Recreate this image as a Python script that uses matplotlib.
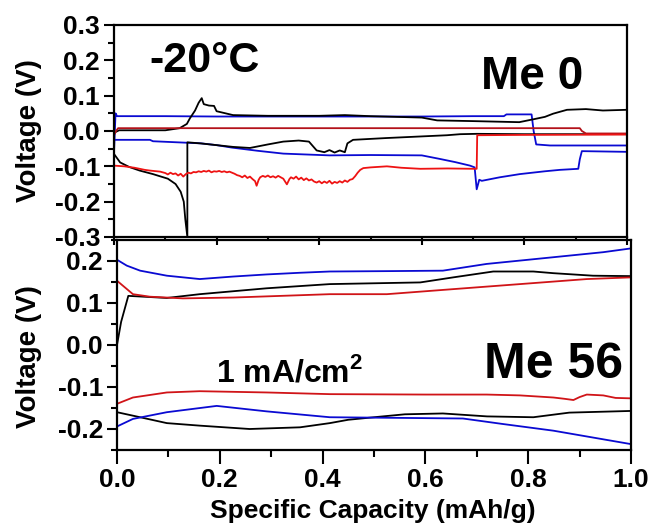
import matplotlib
matplotlib.use("Agg")
import matplotlib.pyplot as plt
from matplotlib.ticker import MultipleLocator, FormatStrFormatter

plt.rcParams['font.family'] = ['Liberation Sans', 'DejaVu Sans']
plt.rcParams['font.weight'] = 'bold'
plt.rcParams['axes.unicode_minus'] = False
plt.rcParams['mathtext.fontset'] = 'custom'
plt.rcParams['mathtext.rm'] = 'Liberation Sans:bold'
plt.rcParams['mathtext.bf'] = 'Liberation Sans:bold'

# ---------------- Me 0 cell (upper panel) ----------------
# blue cycle, charge branch then discharge branch
me0_blue_chg_c = [0.0, 0.003, 0.006, 0.1, 0.2, 0.3, 0.45, 0.6, 0.7, 0.76, 0.765, 0.814, 0.818, 0.823, 0.85, 1.0]
me0_blue_chg_v = [-0.06, 0.05, 0.042, 0.042, 0.041, 0.041, 0.041, 0.041, 0.042, 0.042, 0.047, 0.047, 0.0, -0.038, -0.041, -0.041]
me0_blue_dis_c = [0.0, 0.07, 0.076, 0.17, 0.2, 0.23, 0.28, 0.33, 0.42, 0.5, 0.6, 0.635, 0.665, 0.694, 0.703,
                  0.707, 0.712, 0.717, 0.752, 0.791, 0.84, 0.869, 0.905, 0.908, 0.912, 1.0]
me0_blue_dis_v = [-0.025, -0.025, -0.029, -0.035, -0.040, -0.047, -0.056, -0.064, -0.069, -0.068, -0.069, -0.079,
                  -0.088, -0.098, -0.103, -0.165, -0.138, -0.141, -0.131, -0.122, -0.114, -0.110, -0.107, -0.08, -0.057, -0.059]

me0_black_chg_c = [0.0, 0.01, 0.05, 0.1, 0.128, 0.142, 0.148, 0.158, 0.165, 0.171, 0.175, 0.185, 0.195, 0.2, 0.232,
                   0.3, 0.4, 0.45, 0.5, 0.55, 0.6, 0.63, 0.7, 0.79, 0.817, 0.84, 0.856, 0.883, 0.92, 0.953, 1.0]
me0_black_chg_v = [-0.005, 0.002, 0.002, 0.002, 0.008, 0.02, 0.036, 0.058, 0.08, 0.093, 0.076, 0.072, 0.071, 0.056, 0.045,
                   0.043, 0.043, 0.045, 0.042, 0.04, 0.038, 0.03, 0.028, 0.025, 0.033, 0.04, 0.049, 0.06, 0.062, 0.058, 0.06]
me0_black_dis_c = [0.0, 0.012, 0.03, 0.05, 0.076, 0.105, 0.12, 0.13, 0.136, 0.139, 0.143, 0.143, 0.168, 0.2, 0.232,
                   0.265, 0.3, 0.33, 0.36, 0.38, 0.395, 0.41, 0.42, 0.43, 0.44, 0.45, 0.455, 0.466, 0.53, 0.649,
                   0.675, 0.707, 0.8, 1.0]
me0_black_dis_v = [-0.065, -0.089, -0.102, -0.112, -0.122, -0.135, -0.15, -0.172, -0.2, -0.25, -0.3, -0.032, -0.035,
                   -0.04, -0.045, -0.048, -0.038, -0.03, -0.027, -0.03, -0.055, -0.06, -0.054, -0.061, -0.055, -0.06,
                   -0.035, -0.025, -0.02, -0.012, -0.009, -0.008, -0.009, -0.009]

me0_red_chg_c = [0.0, 0.004, 0.008, 0.5, 0.908, 0.912, 0.92, 1.0]
me0_red_chg_v = [-0.012, 0.0, 0.008, 0.008, 0.008, 0.0, -0.007, -0.007]
me0_red_dis_c = [0.0, 0.02, 0.04, 0.06, 0.07, 0.09,
                 0.100, 0.105, 0.110, 0.115, 0.120, 0.125, 0.130, 0.135, 0.140, 0.145,
                 0.150, 0.155, 0.160, 0.165, 0.170, 0.175, 0.180, 0.185, 0.190, 0.195,
                 0.200, 0.205, 0.210, 0.215, 0.220, 0.225, 0.230, 0.235, 0.240, 0.245,
                 0.250, 0.255, 0.260, 0.265, 0.270, 0.275, 0.278, 0.282, 0.285, 0.290,
                 0.295, 0.300, 0.305, 0.310, 0.315, 0.320, 0.325, 0.330, 0.337, 0.342,
                 0.345, 0.350, 0.355, 0.360, 0.365, 0.370, 0.375, 0.380, 0.385, 0.390,
                 0.395, 0.400, 0.405, 0.410, 0.415, 0.420, 0.425, 0.430, 0.435, 0.440,
                 0.445, 0.450, 0.455, 0.460, 0.465, 0.470, 0.475, 0.480, 0.486,
                 0.5, 0.532, 0.56, 0.597, 0.65, 0.7, 0.707, 0.708, 0.8, 1.0]
me0_red_dis_v = [-0.098, -0.100, -0.104, -0.110, -0.112, -0.115,
                 -0.119, -0.123, -0.118, -0.122, -0.120, -0.126, -0.121, -0.129, -0.122, -0.118,
                 -0.120, -0.116, -0.117, -0.114, -0.116, -0.113, -0.115, -0.112, -0.117, -0.114,
                 -0.115, -0.113, -0.116, -0.114, -0.117, -0.115, -0.118, -0.121, -0.125, -0.127,
                 -0.131, -0.126, -0.133, -0.129, -0.136, -0.142, -0.155, -0.138, -0.131, -0.127,
                 -0.130, -0.126, -0.131, -0.128, -0.132, -0.127, -0.131, -0.135, -0.151, -0.136,
                 -0.131, -0.135, -0.129, -0.137, -0.132, -0.139, -0.134, -0.140, -0.137, -0.143,
                 -0.146, -0.142, -0.148, -0.143, -0.147, -0.141, -0.149, -0.144, -0.147, -0.142,
                 -0.146, -0.140, -0.144, -0.138, -0.136, -0.128, -0.118, -0.110, -0.105,
                 -0.103, -0.100, -0.104, -0.107, -0.106, -0.107, -0.107, -0.012, -0.011, -0.010]

# ---------------- Me 56 cell (lower panel) ----------------
me56_blue_chg_c = [0.0, 0.0, 0.019, 0.045, 0.097, 0.161, 0.226, 0.291, 0.356, 0.414, 0.537, 0.634, 0.719, 0.849, 0.946, 1.0]
me56_blue_chg_v = [-0.194, 0.203, 0.189, 0.177, 0.165, 0.157, 0.163, 0.168, 0.172, 0.175, 0.176, 0.177, 0.193, 0.209, 0.221, 0.23]
me56_blue_dis_c = [0.0, 0.031, 0.097, 0.194, 0.291, 0.414, 0.59, 0.673, 0.75, 0.849, 1.0]
me56_blue_dis_v = [-0.194, -0.176, -0.16, -0.145, -0.158, -0.172, -0.174, -0.175, -0.188, -0.204, -0.236]

me56_black_chg_c = [0.0, 0.0, 0.008, 0.022, 0.097, 0.161, 0.291, 0.414, 0.59, 0.654, 0.732, 0.81, 0.849, 0.926, 1.0]
me56_black_chg_v = [-0.16, 0.0, 0.055, 0.117, 0.112, 0.121, 0.135, 0.145, 0.149, 0.161, 0.175, 0.175, 0.171, 0.165, 0.164]
me56_black_dis_c = [0.0, 0.045, 0.097, 0.161, 0.258, 0.356, 0.414, 0.45, 0.5, 0.56, 0.634, 0.72, 0.81, 0.88, 1.0]
me56_black_dis_v = [-0.16, -0.172, -0.186, -0.192, -0.2, -0.196, -0.186, -0.178, -0.172, -0.165, -0.163, -0.17, -0.172, -0.161, -0.157]

me56_red_chg_c = [0.0, 0.0, 0.031, 0.064, 0.128, 0.226, 0.414, 0.525, 0.654, 0.784, 0.914, 1.0]
me56_red_chg_v = [-0.14, 0.153, 0.121, 0.115, 0.111, 0.113, 0.121, 0.121, 0.133, 0.145, 0.157, 0.161]
me56_red_dis_c = [0.0, 0.031, 0.097, 0.161, 0.291, 0.414, 0.6, 0.719, 0.784, 0.849, 0.87, 0.888, 0.9, 0.914, 0.946, 0.97, 1.0]
me56_red_dis_v = [-0.14, -0.125, -0.113, -0.11, -0.113, -0.117, -0.118, -0.118, -0.12, -0.125, -0.128, -0.131, -0.124,
                  -0.118, -0.12, -0.126, -0.127]

BLUE = '#0a0ad2'
DARKRED = '#b3121a'
RED = '#ee1313'
LW = 1.3

fig = plt.figure(figsize=(6.53, 5.26), dpi=100)
ax2 = fig.add_axes([117 / 653, 1 - 450 / 526, 514 / 653, 210 / 526])
ax1 = fig.add_axes([114 / 653, 1 - 237 / 526, 513 / 653, 212 / 526])

# upper panel
ax1.plot(me0_blue_chg_c, me0_blue_chg_v, color=BLUE, lw=LW)
ax1.plot(me0_blue_dis_c, me0_blue_dis_v, color=BLUE, lw=LW)
ax1.plot(me0_black_chg_c, me0_black_chg_v, color='k', lw=LW)
ax1.plot(me0_black_dis_c, me0_black_dis_v, color='k', lw=LW)
ax1.plot(me0_red_chg_c, me0_red_chg_v, color=DARKRED, lw=LW)
ax1.plot(me0_red_dis_c, me0_red_dis_v, color=RED, lw=LW)

# lower panel
ax2.plot(me56_black_chg_c, me56_black_chg_v, color='k', lw=LW)
ax2.plot(me56_black_dis_c, me56_black_dis_v, color='k', lw=LW)
ax2.plot(me56_red_chg_c, me56_red_chg_v, color='#d01418', lw=LW)
ax2.plot(me56_red_dis_c, me56_red_dis_v, color='#d01418', lw=LW)
ax2.plot(me56_blue_chg_c, me56_blue_chg_v, color=BLUE, lw=LW)
ax2.plot(me56_blue_dis_c, me56_blue_dis_v, color=BLUE, lw=LW)

for ax in (ax1, ax2):
    ax.set_xlim(0, 1.0)
    for s in ax.spines.values():
        s.set_linewidth(1.6)
    ax.xaxis.set_major_locator(MultipleLocator(0.2))
    ax.xaxis.set_minor_locator(MultipleLocator(0.1))
    ax.yaxis.set_major_locator(MultipleLocator(0.1))
    ax.yaxis.set_minor_locator(MultipleLocator(0.05))
    ax.yaxis.set_major_formatter(FormatStrFormatter('%.1f'))
    ax.xaxis.set_major_formatter(FormatStrFormatter('%.1f'))
    ax.tick_params(which='major', direction='out', length=7, width=1.5, labelsize=19, pad=3)
    ax.tick_params(which='minor', direction='out', length=4, width=1.5)
    ax.set_ylabel('Voltage (V)', fontsize=20, fontweight='bold')

ax1.set_ylim(-0.3, 0.3)
ax1.tick_params(axis='x', which='both', labelbottom=False)
ax1.tick_params(axis='x', which='major', length=6)
ax1.tick_params(axis='x', which='minor', length=3)
ax1.yaxis.set_label_coords(-0.14, 0.5)

ax2.set_ylim(-0.25, 0.25)
ax2.tick_params(axis='x', which='major', length=10)
ax2.tick_params(axis='x', which='minor', length=5)
ax2.yaxis.set_label_coords(-0.146, 0.445)
ax2.set_xlabel('Specific Capacity (mAh/g)', fontsize=19, fontweight='bold')
ax2.xaxis.set_label_coords(0.497, -0.235)

ax1.text(0.177, 0.778, '-20°C', transform=ax1.transAxes, fontsize=31, fontweight='bold',
         ha='center', va='baseline')
ax1.text(0.816, 0.698, 'Me 0', transform=ax1.transAxes, fontsize=33, fontweight='bold',
         ha='center', va='baseline')
ax2.text(0.849, 0.343, 'Me 56', transform=ax2.transAxes, fontsize=36, fontweight='bold',
         ha='center', va='baseline')
ax2.text(0.336, 0.324, r'1 mA/cm$^{\mathbf{2}}$', transform=ax2.transAxes, fontsize=23, fontweight='bold',
         ha='center', va='baseline')

fig.savefig('out.png', dpi=100)
